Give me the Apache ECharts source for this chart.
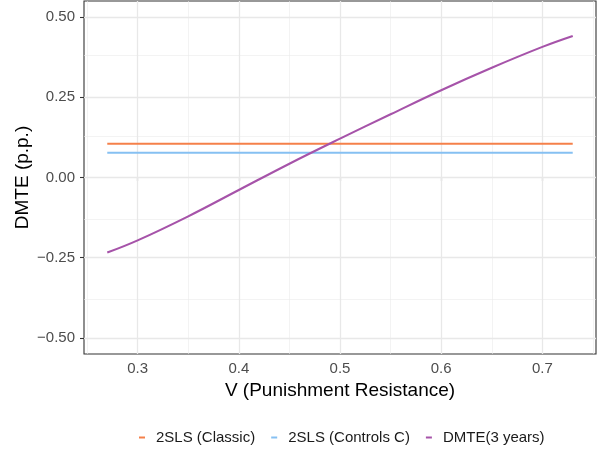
<!DOCTYPE html>
<html><head><meta charset="utf-8">
<script src="https://cdn.jsdelivr.net/npm/echarts@6/dist/echarts.min.js"></script>
<style>html,body{margin:0;padding:0;background:#fff}#c{width:600px;height:450px}</style>
</head><body><div id="c"></div>
<script>
// Data
const vGrid = [0.27, 0.30, 0.35, 0.40, 0.45, 0.50, 0.55, 0.60, 0.65, 0.70, 0.73];
const dmte = [-0.234, -0.196, -0.121, -0.039, 0.043, 0.121, 0.197, 0.272, 0.342, 0.407, 0.441];
const tslsClassic = 0.105;
const tslsControls = 0.077;
const seriesNames = ['2SLS (Classic)', '2SLS (Controls C)', 'DMTE(3 years)'];
const xTicks = [0.3, 0.4, 0.5, 0.6, 0.7];
const xMinor = [0.25, 0.35, 0.45, 0.55, 0.65, 0.75];
const yTicks = [-0.5, -0.25, 0, 0.25, 0.5];
const yMinor = [-0.375, -0.125, 0.125, 0.375];
const xRange = [0.247, 0.753];
const yRange = [-0.55, 0.55];

const colors = ['#F5804A', '#86C0F2', '#A653A9'];
const fmtY = v => (v < 0 ? '\u2212' : '') + Math.abs(v).toFixed(2);
const fmtX = v => v.toFixed(1);
const FONT = 'Liberation Sans, Arial, sans-serif';

const gridLines = [];
xMinor.forEach(v => gridLines.push({xAxis: v, lineStyle: {color: '#EBEBEB', width: 0.6, type: 'solid'}}));
yMinor.forEach(v => gridLines.push({yAxis: v, lineStyle: {color: '#EBEBEB', width: 0.6, type: 'solid'}}));
xTicks.forEach(v => gridLines.push({xAxis: v, lineStyle: {color: '#E8E8E8', width: 1.3, type: 'solid'}}));
yTicks.forEach(v => gridLines.push({yAxis: v, lineStyle: {color: '#E8E8E8', width: 1.3, type: 'solid'}}));

const chart = echarts.init(document.getElementById('c'), null, {renderer: 'canvas'});
chart.setOption({
  animation: false,
  backgroundColor: '#fff',
  color: colors,
  grid: {left: 84, right: 4, top: 1, bottom: 96, show: true, borderColor: '#333', borderWidth: 1.1, backgroundColor: '#fff', containLabel: false},
  legend: {
    bottom: 0, left: 134, itemWidth: 6, itemHeight: 2, itemGap: 16, icon: 'rect',
    data: seriesNames,
    textStyle: {fontFamily: FONT, fontSize: 15, color: '#1a1a1a', padding: [0, 0, 0, 6]}
  },
  xAxis: {
    type: 'value', min: xRange[0], max: xRange[1],
    name: 'V (Punishment Resistance)', nameLocation: 'middle', nameGap: 27, nameMoveOverlap: false,
    nameTextStyle: {fontFamily: FONT, fontSize: 19, color: '#000'},
    axisLine: {show: false},
    axisTick: {show: true, length: 4, customValues: xTicks, lineStyle: {color: '#333', width: 1.1}},
    axisLabel: {customValues: xTicks, formatter: fmtX, margin: 7, fontFamily: FONT, fontSize: 15, color: '#4D4D4D'},
    splitLine: {show: false}
  },
  yAxis: {
    type: 'value', min: yRange[0], max: yRange[1],
    name: 'DMTE (p.p.)', nameLocation: 'middle', nameGap: 52, nameRotate: 90, nameMoveOverlap: false,
    nameTextStyle: {fontFamily: FONT, fontSize: 19, color: '#000'},
    axisLine: {show: false},
    axisTick: {show: true, length: 4, customValues: yTicks, lineStyle: {color: '#333', width: 1.1}},
    axisLabel: {customValues: yTicks, formatter: fmtY, margin: 9, fontFamily: FONT, fontSize: 15, color: '#4D4D4D'},
    splitLine: {show: false}
  },
  series: [
    {
      type: 'line', name: '__grid', data: [], z: 1, silent: true,
      markLine: {silent: true, z: 1, symbol: ['none', 'none'], label: {show: false}, animation: false, data: gridLines}
    },
    {
      type: 'line', name: seriesNames[0], showSymbol: false, symbol: 'none',
      data: [[vGrid[0], tslsClassic], [vGrid[vGrid.length - 1], tslsClassic]],
      lineStyle: {width: 2, color: colors[0]}, itemStyle: {color: colors[0]}, z: 3
    },
    {
      type: 'line', name: seriesNames[1], showSymbol: false, symbol: 'none',
      data: [[vGrid[0], tslsControls], [vGrid[vGrid.length - 1], tslsControls]],
      lineStyle: {width: 2, color: colors[1]}, itemStyle: {color: colors[1]}, z: 3
    },
    {
      type: 'line', name: seriesNames[2], showSymbol: false, symbol: 'none', smooth: 0.4,
      data: vGrid.map((v, i) => [v, dmte[i]]),
      lineStyle: {width: 2.1, color: colors[2]}, itemStyle: {color: colors[2]}, z: 4
    }
  ]
});
</script></body></html>
